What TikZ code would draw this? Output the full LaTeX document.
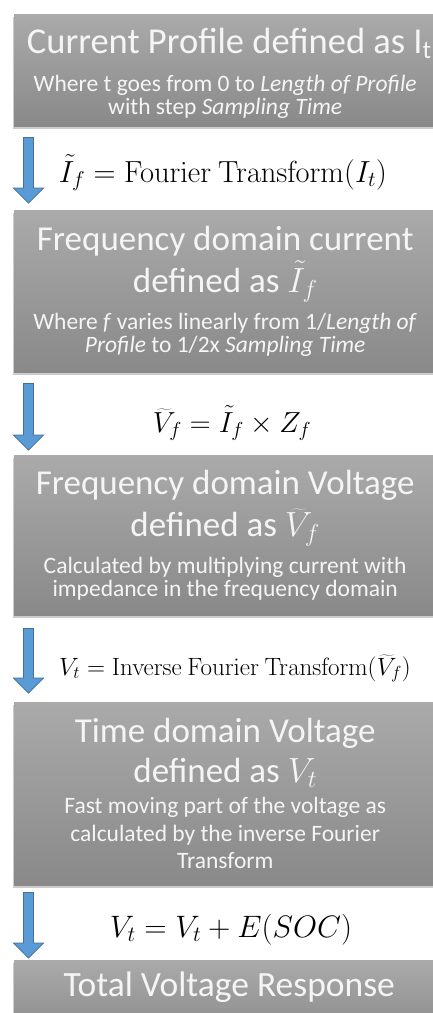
\RequirePackage{fix-cm}
\documentclass[tikz,border=0pt]{standalone}
\usepackage[no-math]{fontspec}
\setmainfont{Carlito}
\usetikzlibrary{calc,shadows}
\definecolor{boxtop}{RGB}{170,170,170}
\definecolor{boxbot}{RGB}{137,137,137}
\definecolor{arrfill}{RGB}{91,155,213}
\definecolor{arrline}{RGB}{65,113,156}
\newcommand{\bigtxt}[1][35]{\fontsize{#1}{40}\selectfont}
\newcommand{\notetxt}{\fontsize{23.5}{23}\selectfont\lineskiplimit=-100pt\relax}
% struts fixing first baseline and last depth inside a box
\newcommand{\topgap}[1]{\rule{0pt}{#1}}
\newcommand{\botgap}[1]{\rule[-#1]{0pt}{#1}}

\begin{document}
\begin{tikzpicture}[
   x=1pt,y=-1pt,
   box/.style={anchor=north west,minimum width=422pt,inner sep=0pt,
               align=center,text=white!96!black,font=\notetxt,
               top color=boxtop,bottom color=boxbot,
               drop shadow={shadow xshift=-1pt,shadow yshift=-3pt,opacity=.4}},
   eq/.style={anchor=base,inner sep=0pt},
   blk/.style={fill=arrfill,draw=arrline,line width=.7pt,
               to path={let \p1=(\tikztostart),\p2=(\tikztotarget) in
                 (\x1-5pt,\y1) -- (\x1+5pt,\y1) -- (\x1+5pt,\y2+15pt) -- (\x1+15pt,\y2+15pt)
                 -- (\x1,\y2) -- (\x1-15pt,\y2+15pt) -- (\x1-5pt,\y2+15pt) -- cycle}}
 ]
  \useasboundingbox (0,0) rectangle (433,1013);

  \node[box,minimum height=112pt] (prof) at (14,14)
    {\topgap{39pt}{\bigtxt[36.5] Current Profile defined as I\textsubscript{t}}\\[15pt]
     Where t goes from 0 to \textit{Length of Profile}\\
     with step \textit{Sampling Time}\botgap{12pt}};
  \node[box,minimum height=162pt] (freqI) at (14,210)
    {\topgap{40pt}{\bigtxt Frequency domain current}\\[19pt]
     {\bigtxt defined as $\tilde{I}_f$}\\[14pt]
     Where \textit{f} varies linearly from 1/\textit{Length of}\\
     \textit{Profile} to 1/2x \textit{Sampling Time}\botgap{20pt}};
  \node[box,minimum height=160pt] (freqV) at (14,455)
    {\topgap{39pt}{\bigtxt Frequency domain Voltage}\\[19pt]
     {\bigtxt defined as $\widetilde{V}_f$}\\[14pt]
     Calculated by multiplying current with\\
     impedance in the frequency domain\botgap{19pt}};
  \node[box,minimum height=183pt] (timeV) at (14,702)
    {\topgap{40pt}{\bigtxt Time domain Voltage}\\[17pt]
     {\bigtxt defined as $V_t$}\\[8pt]
     Fast moving part of the voltage as\\[5pt]
     calculated by the inverse Fourier\\[4pt]
     Transform\botgap{17pt}};
  \node[box,minimum height=80pt,text height=33pt,text depth=41pt] (total) at (14,960)
    {\bigtxt[35.5] Total Voltage Response};

  % formulas between the steps
  \node[eq,font=\fontsize{30.5}{30}\selectfont] (fourier) at (223,182)
    {$\tilde{I}_f = \mathrm{Fourier\ Transform}(I_t)$};
  \node[eq,font=\fontsize{29}{30}\selectfont] (mult) at (232,432)
    {$\widetilde{V}_f = \tilde{I}_f \times Z_f$};
  \node[eq,font=\fontsize{25}{30}\selectfont] (inverse) at (235,675)
    {$V_t = \mathrm{Inverse\ Fourier\ Transform}(\widetilde{V}_f)$};
  \node[eq,font=\fontsize{31}{30}\selectfont] (soc) at (231,937)
    {$V_t = V_t + E(SOC)$};

  \draw[blk] ([xshift=14.5pt,yshift=-11pt]prof.south west) to ([xshift=14.5pt,yshift=7pt]freqI.north west);
  \draw[blk] ([xshift=14.5pt,yshift=-11pt]freqI.south west) to ([xshift=14.5pt,yshift=5pt]freqV.north west);
  \draw[blk] ([xshift=14.5pt,yshift=-13pt]freqV.south west) to ([xshift=14.5pt,yshift=9pt]timeV.north west);
  \draw[blk] ([xshift=14.5pt,yshift=-7pt]timeV.south west) to ([xshift=14.5pt,yshift=2pt]total.north west);
\end{tikzpicture}
\end{document}
